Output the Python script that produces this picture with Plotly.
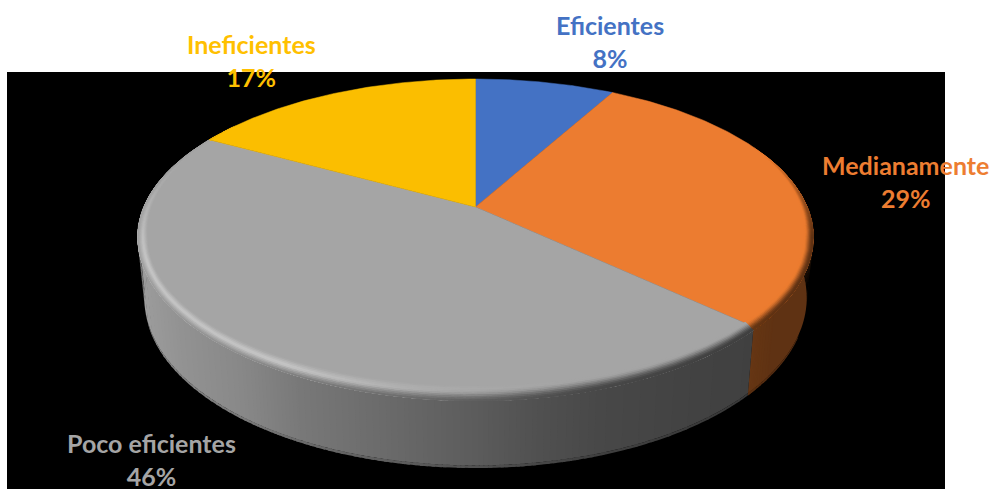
import math
import numpy as np
import plotly.graph_objects as go

# Survey shares, clockwise from twelve o'clock
categories = ["Eficientes", "Medianamente", "Poco eficientes", "Ineficientes"]
values = [8, 29, 46, 17]
face_colors = ["#4472C4", "#EC7C30", "#A5A5A5", "#FBBE00"]
label_colors = ["#4472C4", "#ED7D31", "#A5A5A5", "#FFC000"]
label_x = [610, 905, 151, 251]
label_y = [41, 181.5, 459, 60]

W, H = 993, 489

# Tilted disc: rim ellipse of the top face and of the base
CX, CY, A, B = 475.5, 237.0, 338.0, 158.0
BASE_CY, BASE_A, BASE_B = 300.0, 331.0, 168.0
TILT = 0.19  # perspective shift of the pie centre towards the back


def to_ellipse_angle(theta):
    """Projects an angle on the flat pie onto the tilted rim ellipse."""
    x, y = math.sin(theta), math.cos(theta)
    d = 1 + TILT * y
    return math.atan2(x * math.sqrt(1 - TILT**2) / d, (y + TILT) / d) % (2 * math.pi)


def top(t):
    return CX + A * math.sin(t), CY - B * math.cos(t)


def base(t):
    return CX + BASE_A * math.sin(t), BASE_CY - BASE_B * math.cos(t)


def hex_rgb(c):
    return np.array([int(c[i:i + 2], 16) for i in (1, 3, 5)], float)


def rgb_hex(c):
    return "#%02x%02x%02x" % tuple(int(round(max(0, min(255, v)))) for v in c)


def mix(a, b, k):
    return a + (b - a) * k


# Slice edges expressed on the ellipse
cum = np.cumsum([0] + values) / sum(values) * 2 * math.pi
edges = [to_ellipse_angle(v) for v in cum[:-1]] + [2 * math.pi]


def slice_index(t):
    for i in range(len(values)):
        if edges[i] <= t < edges[i + 1]:
            return i
    return len(values) - 1


def steps(start, stop, step):
    """Angular steps between start and stop that never straddle a slice edge."""
    t = start
    while t < stop - 1e-9:
        t2 = min(t + step, stop)
        for e in edges:
            if t + 1e-9 < e < t2:
                t2 = e
        yield t, t2
        t = t2


GRAY_X = [140, 180, 240, 300, 400, 475, 540, 600, 700, 760]
GRAY_V = [0x9c, 0x92, 0x88, 0x78, 0x68, 0x5c, 0x50, 0x48, 0x42, 0x40]
ORANGE_WALL = hex_rgb("#5F3213")


def wall_color(i, x):
    if i == 2:
        v = float(np.interp(x, GRAY_X, GRAY_V))
        return np.array([v, v, v])
    if i == 1:
        return mix(hex_rgb("#693814"), ORANGE_WALL, min(1, max(0, (x - 745) / 30)))
    return hex_rgb(face_colors[i]) * 0.4


def strength(t):
    """How strong the bevel is at this point of the rim (0 at the back)."""
    d = math.degrees(t)
    if d < 90:
        return max(0.0, (d - 55) / 35)
    if d > 270:
        return max(0.0, (315 - d) / 45)
    return 1.0


def highlight(t):
    """Amount of specular light on the rim, strongest at the front left."""
    d = math.degrees(t)
    if d < 160:
        return 0.0
    if d < 215:
        return (d - 160) / 55
    if d < 262:
        return 1.0
    return max(0.0, (315 - d) / 53)


def rim_point(t, u):
    s = strength(t)
    inner = (1 - u) * s
    rx = A - 10 * inner
    ry = B - 9 * inner
    outer = 6 * u * max(0.0, -math.cos(t))
    return CX + rx * math.sin(t), CY - ry * math.cos(t) + outer


def rim_color(t, um):
    i = slice_index(t)
    face = hex_rgb(face_colors[i])
    wall = wall_color(i, top(t)[0])
    s = strength(t)
    k = min(1.0, max(0.0, (um - 0.1) / 0.8))
    plain = mix(face, wall, k * k * (3 - 2 * k) * s)
    h = highlight(t) if i == 2 else 0.0
    if h <= 0:
        return plain
    peak = mix(face, np.array([0xC8, 0xC8, 0xC8]), s)
    if um < 0.45:
        lit = mix(face, peak, um / 0.45)
    else:
        lit = mix(peak, mix(face, wall, s), (um - 0.45) / 0.55)
    return mix(plain, lit, h)


# Painted in order; runs of one colour are merged so no seams show
ordered = []


def paint(color, pts):
    if ordered and ordered[-1][0] == color:
        ordered[-1][1].append(pts)
    else:
        ordered.append((color, [pts]))


def draw_ordered():
    for color, shapes in ordered:
        xs, ys = [], []
        for pts in shapes:
            xs += [p[0] for p in pts] + [pts[0][0], None]
            ys += [p[1] for p in pts] + [pts[0][1], None]
        fig.add_trace(go.Scatter(
            x=xs, y=ys, mode="lines", fill="toself", fillcolor=color,
            line=dict(width=0), hoverinfo="skip", showlegend=False,
        ))
    ordered.clear()


fig = go.Figure()

# Side wall: short bands of constant shade, each overlapping the band painted
# next; keeping them short lets their union follow the disc's outline
LIP = 0.965
MAX_RUN = math.radians(1.6)
WALL_START, WALL_STOP = math.radians(70), math.radians(290)
runs = []
for t, t2 in steps(WALL_START, WALL_STOP, math.radians(0.4)):
    mid = (t + t2) / 2
    c = rgb_hex(wall_color(slice_index(mid), top(mid)[0]))
    if runs and runs[-1][0] == c and t2 - runs[-1][1] <= MAX_RUN:
        runs[-1][2] = t2
    else:
        runs.append([c, t, t2])


def band(t0, t1, k0, k1):
    arc = np.linspace(t0, t1, max(2, int((t1 - t0) / math.radians(1)) + 2))
    upper = [(mix(top(a)[0], base(a)[0], k0), mix(top(a)[1], base(a)[1], k0)) for a in arc]
    lower = [(mix(top(a)[0], base(a)[0], k1), mix(top(a)[1], base(a)[1], k1)) for a in arc[::-1]]
    return upper + lower


for n, (c, t0, t1) in enumerate(runs):
    # the overlap stays inside a slice so the seam between colours remains sharp
    same_slice = n + 1 < len(runs) and slice_index(runs[n + 1][1] + 1e-6) == slice_index(t0 + 1e-6)
    paint(c, band(t0, t1 + (math.radians(0.6) if same_slice else 0), 0, LIP))
for n, (c, t0, t1) in enumerate(runs):
    same_slice = n + 1 < len(runs) and slice_index(runs[n + 1][1] + 1e-6) == slice_index(t0 + 1e-6)
    paint(rgb_hex(hex_rgb(c) * 0.88), band(t0, t1 + (math.radians(0.6) if same_slice else 0), LIP, 1))
draw_ordered()

# Top face: one sector per category, starting from the projected pie centre
for i, name in enumerate(categories):
    arc = np.linspace(edges[i], edges[i + 1], 140)
    pts = [top(a) for a in arc]
    xs = [CX] + [p[0] for p in pts] + [CX]
    ys = [CY - TILT * B] + [p[1] for p in pts] + [CY - TILT * B]
    fig.add_trace(go.Scatter(
        x=xs, y=ys, mode="lines", fill="toself", fillcolor=face_colors[i],
        line=dict(color=face_colors[i], width=0.5), name=name, showlegend=False,
        hovertemplate=f"{name}: {values[i]}%<extra></extra>",
    ))

# Bevel along the front of the rim, painted from the inner ring outwards;
# each ring reaches to the outer edge and the next ring covers its surplus
RIM_U = np.linspace(0, 1, 10)
RIM_START, RIM_STOP = math.radians(55), math.radians(315)
for u0 in RIM_U[:-1]:
    um = u0 + (RIM_U[1] - RIM_U[0]) / 2
    ring = []
    for t, t2 in steps(RIM_START, RIM_STOP, math.radians(0.5)):
        c = rgb_hex(rim_color((t + t2) / 2, um))
        if ring and ring[-1][0] == c and slice_index(ring[-1][1] + 1e-6) == slice_index(t + 1e-6):
            ring[-1][2] = t2
        else:
            ring.append([c, t, t2])
    for n, (c, t0, t1) in enumerate(ring):
        same_slice = n + 1 < len(ring) and slice_index(ring[n + 1][1] + 1e-6) == slice_index(t0 + 1e-6)
        end = t1 + (math.radians(0.5) if same_slice else 0)
        arc = np.linspace(t0, end, max(2, int((end - t0) / math.radians(1)) + 2))
        inner = [rim_point(a, u0) for a in arc]
        outer = [rim_point(a, 1.0) for a in arc[::-1]]
        paint(c, inner + outer)
draw_ordered()

for name, v, c, x, y in zip(categories, values, label_colors, label_x, label_y):
    fig.add_annotation(
        x=x, y=y, xref="x", yref="y", text=f"<b>{name}<br>{v}%</b>",
        showarrow=False, align="center", xanchor="center", yanchor="middle",
        font=dict(family="Lato", size=25, color=c),
    )

fig.update_layout(
    width=W, height=H, autosize=False,
    margin=dict(l=0, r=0, t=0, b=0),
    paper_bgcolor="white", plot_bgcolor="white",
    xaxis=dict(range=[0, W], visible=False, fixedrange=True),
    yaxis=dict(range=[H, 0], visible=False, fixedrange=True),
    shapes=[dict(type="rect", xref="x", yref="y", x0=7, x1=945, y0=72, y1=H,
                 fillcolor="black", line=dict(width=0), layer="below")],
)

fig.write_html("out.html", config=dict(displayModeBar=False))
